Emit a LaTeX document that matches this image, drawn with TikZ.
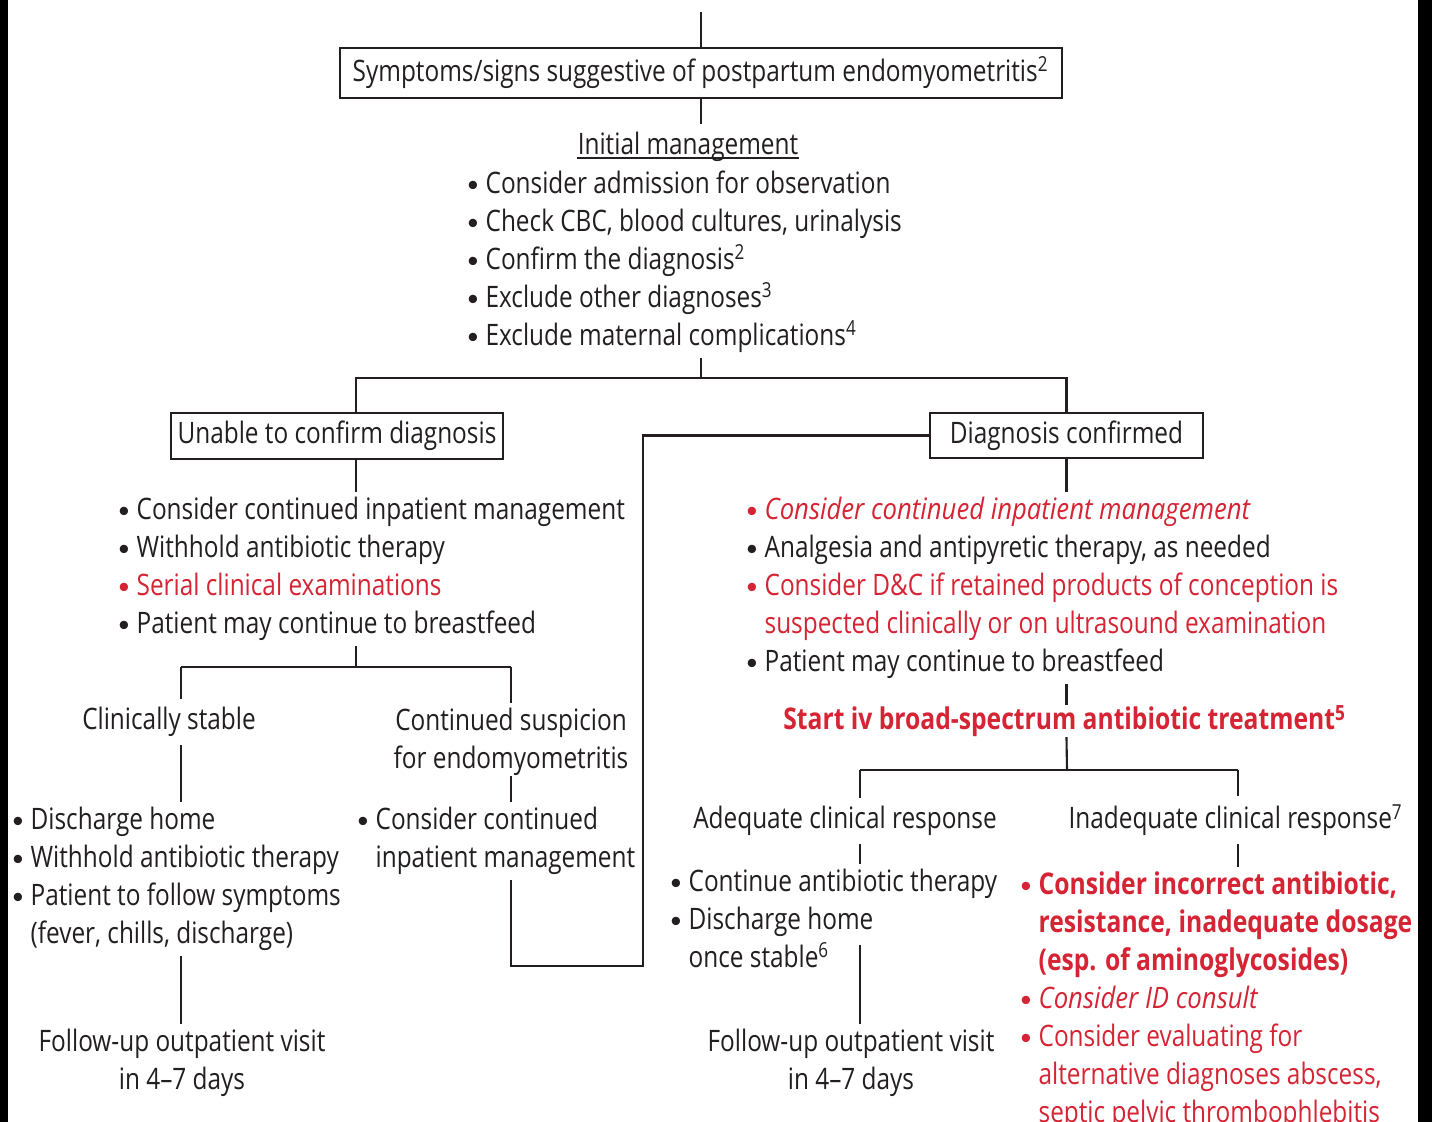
\documentclass[tikz,border=0pt]{standalone}
\usepackage{fontspec}
\setmainfont{Open Sans}[FakeStretch=0.825, ItalicFeatures={FakeStretch=0.87}]
\usetikzlibrary{positioning}
\definecolor{ink}{RGB}{35,31,32}
\definecolor{alert}{RGB}{213,36,52}
\newcommand{\fsz}{\fontsize{8.4pt}{10.8pt}\selectfont}
\newcommand{\bsz}{\fontsize{8.5pt}{10.8pt}\selectfont\bfseries}
\newcommand{\bw}{5.1pt}
\newcommand{\bu}{\strut\makebox[\bw][l]{\raisebox{0.8pt}{\scalebox{0.72}{$\bullet$}}}}
\newcommand{\cont}{\strut\hspace*{\bw}}
\begin{document}
\begin{tikzpicture}[x=0.01cm,y=-0.01cm,
  every node/.style={inner sep=0pt, text=ink, font=\fsz},
  frame/.style={draw=ink, line width=0.6pt},
  link/.style={draw=ink, line width=0.6pt},
  list/.style={anchor=north west, align=left},
  label/.style={anchor=base, outer ysep=2.3pt},
  label2/.style={anchor=north, align=center}]
  \useasboundingbox[fill=white] (0,0) rectangle (1432,1122);
  \fill[black] (0,0) rectangle (8,1122);
  \fill[black] (1418,0) rectangle (1432,1122);

  % top part
  \node[frame, minimum width=7.22cm, minimum height=0.5cm] (sym) at (701,73)
    {Symptoms/signs suggestive of postpartum endomyometritis\textsuperscript{2}};
  \node[label] (imhead) at (688,155) {Initial management};
  \draw[ink, line width=0.4pt] ([yshift=-0.9pt]imhead.base west) -- ([yshift=-0.9pt]imhead.base east);
  \node[list] (ilist) at (467,166.4) {\bu Consider admission for observation\\
    \bu Check CBC, blood cultures, urinalysis\\
    \bu Confirm the diagnosis\textsuperscript{2}\\
    \bu Exclude other diagnoses\textsuperscript{3}\\
    \bu Exclude maternal complications\textsuperscript{4}};

  \node[frame, minimum width=3.32cm, minimum height=0.46cm] (unable) at (337,436) {Unable to confirm diagnosis};
  \node[frame, minimum width=2.73cm, minimum height=0.45cm] (diag) at (1066.5,435.5) {Diagnosis confirmed};

  % left branch
  \node[list] (ulist) at (118,492.4) {\bu Consider continued inpatient management\\
    \bu Withhold antibiotic therapy\\
    \textcolor{alert}{\bu Serial clinical examinations}\\
    \bu Patient may continue to breastfeed};
  \node[label] (stable) at (169,730) {Clinically stable};
  \node[label2] (susp) at (511,703.4) {\strut Continued suspicion\\for endomyometritis};
  \node[list] (dlist) at (12,802.4) {\bu Discharge home\\
    \bu Withhold antibiotic therapy\\
    \bu Patient to follow symptoms\\
    \cont (fever, chills, discharge)};
  \node[list] (clist) at (357,802.4) {\bu Consider continued\\
    \cont inpatient management};
  \node[label2] (fup1) at (182,1024.4) {\strut Follow-up outpatient visit\\in 4--7 days};

  % right branch
  \node[list] (dglist) at (746,492.4) {\textcolor{alert}{\bu \textit{Consider continued inpatient management}}\\
    \bu Analgesia and antipyretic therapy, as needed\\
    \textcolor{alert}{\bu Consider D\&C if retained products of conception is}\\
    \textcolor{alert}{\cont suspected clinically or on ultrasound examination}\\
    \bu Patient may continue to breastfeed};
  \node[label, outer ysep=0pt, text=alert, font=\bsz] (start) at (1065,730)
    {Start iv broad-spectrum antibiotic treatment\textsuperscript{5}};
  \node[label] (adeq) at (845,829) {Adequate clinical response};
  \node[label] (inad) at (1236,829) {Inadequate clinical response\textsuperscript{7}};
  \node[list] (alist) at (670,864.4) {\bu Continue antibiotic therapy\\
    \bu Discharge home\\
    \cont once stable\textsuperscript{6}};
  \node[label2] (fup2) at (851,1024.4) {\strut Follow-up outpatient visit\\in 4--7 days};
  \node[list, text=alert] (nlist) at (1020,867.4) {\bu {\bsz Consider incorrect antibiotic,}\\
    \cont{\bsz resistance, inadequate dosage}\\
    \cont{\bsz (esp. of aminoglycosides)}\\
    \bu \textit{Consider ID consult}\\
    \bu Consider evaluating for\\
    \cont alternative diagnoses abscess,\\
    \cont septic pelvic thrombophlebitis};

  % connectors
  \coordinate (entry) at (701,12);
  \coordinate (fork1) at (701,378);
  \coordinate (forkL) at (356,378);
  \coordinate (fork2) at (356,667);
  \coordinate (fork2L) at (181,667);
  \coordinate (fork2R) at (511,667);
  \coordinate (loopB) at (643,966);
  \coordinate (fork3) at (1067,770);
  \coordinate (fork3L) at (860,770);
  \coordinate (fork3R) at (1238,770);
  \coordinate (drop2) at (860,945);

  \draw[link] (entry) -- (sym.north);
  \draw[link] (sym.south) -- (sym.south |- imhead.north);
  \draw[link] (sym.south |- ilist.south) -- (fork1);
  \draw[link] (fork1) -- (forkL) -- (forkL |- unable.north);
  \draw[link] (fork1) -| (diag.north);
  \draw[link] (forkL |- unable.south) -- (forkL |- ulist.north);
  \draw[link] (forkL |- ulist.south) -- (fork2);
  \draw[link] (fork2L) -- (fork2R);
  \draw[link] (fork2L) -- (fork2L |- stable.north);
  \draw[link] (fork2R) -- (susp.north);
  \draw[link] (fork2L |- stable.south) -- (fork2L |- dlist.north);
  \draw[link] (fork2L |- dlist.south) -- (fork2L |- fup1.north);
  \draw[link] (susp.south) -- (susp.south |- clist.north);
  \draw[link] (fork2R |- clist.south) |- (loopB) |- (diag.west);
  \draw[link] (diag.south) -- (diag.south |- dglist.north);
  \draw[link] (diag.south |- dglist.south) -- (diag.south |- start.north);
  \draw[link] (diag.south |- start.south) -- (fork3);
  \draw[link] (fork3L) -- (fork3R);
  \draw[link] (fork3L) -- (fork3L |- adeq.north);
  \draw[link] (fork3R) -- (fork3R |- inad.north);
  \draw[link] (fork3L |- adeq.south) -- (fork3L |- alist.north);
  \draw[link] (fork3R |- inad.south) -- (fork3R |- nlist.north);
  \draw[link] (drop2) -- (drop2 |- fup2.north);
\end{tikzpicture}
\end{document}
